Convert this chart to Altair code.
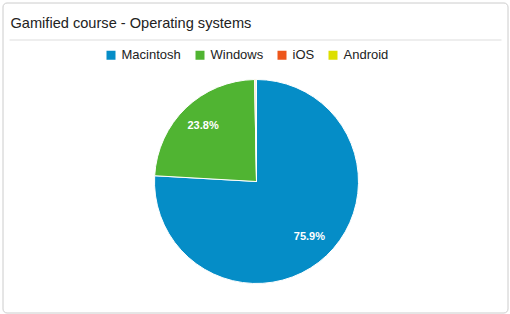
import altair as alt
import pandas as pd

title_text = "Gamified course - Operating systems"
systems = ["Macintosh", "Windows", "iOS", "Android"]
shares = [75.9, 23.8, 0.2, 0.1]
colors = ["#058DC7", "#50B432", "#ED561B", "#DDDF00"]

df = pd.DataFrame({"os": systems, "share": shares, "ord": list(range(len(systems)))})
df["label"] = [f"{v:.1f}%" for v in shares]
title_df = pd.DataFrame({"title": [title_text]})

PX, PY = 2, 2  # chart padding
cx, cy, R = 256 - PX, 181 - PY, 102

base = alt.Chart(df).encode(
    theta=alt.Theta("share:Q", stack=True),
    order=alt.Order("ord:Q", sort="ascending"),
)

pie = base.mark_arc(radius=R, stroke="white", strokeWidth=1).encode(
    x=alt.value(cx), y=alt.value(cy),
    color=alt.Color(
        "os:N",
        scale=alt.Scale(domain=systems, range=colors),
        sort=systems,
        legend=alt.Legend(
            title=None, orient="none", direction="horizontal",
            legendX=102, legendY=46,
            symbolType="square", symbolSize=81, symbolStrokeWidth=0,
            labelFontSize=13, labelFont="Liberation Sans", labelColor="#222",
            labelOffset=4, columnPadding=12, symbolOpacity=1, padding=0,
        ),
    ),
)

labels = base.transform_filter("datum.share > 5").mark_text(
    radius=77, color="white", fontWeight="bold", fontSize=11, font="Liberation Sans"
).encode(x=alt.value(cx), y=alt.value(cy), text="label:N")

title = alt.Chart(title_df).mark_text(
    align="left", baseline="alphabetic", fontSize=14.6, fontWeight="normal",
    font="Liberation Sans", color="#222"
).encode(x=alt.value(10 - PX), y=alt.value(27 - PY), text="title:N")

rule = alt.Chart(title_df).mark_rule(color="#dddddd", strokeWidth=1).encode(
    x=alt.value(9 - PX), x2=alt.value(501 - PX), y=alt.value(39.5 - PY)
)

chart = alt.layer(rule, title, pie, labels).properties(
    width=505, height=310,
    padding={"left": PX + 0.5, "top": PY + 0.5, "right": 2, "bottom": 1},
    autosize=alt.AutoSizeParams(type="none"),
    background="white",
).configure_view(
    stroke="#cccccc", strokeWidth=1, cornerRadius=4
)

chart.save("out.html", embed_options={"renderer": "svg", "actions": False})
